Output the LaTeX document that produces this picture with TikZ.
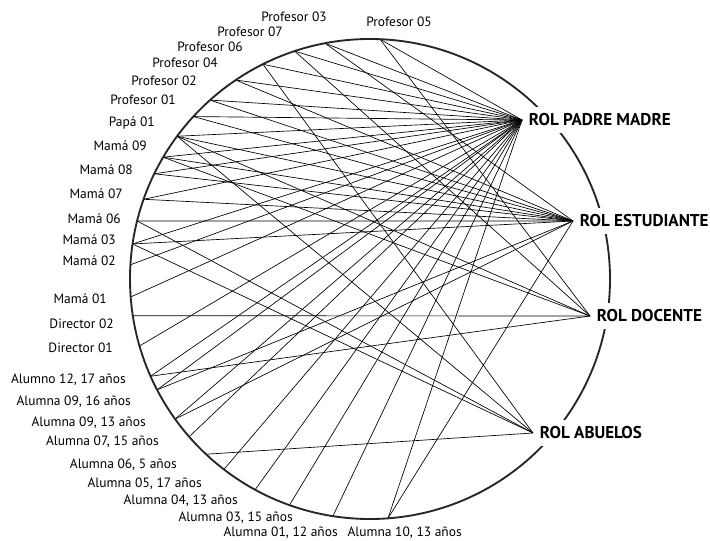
\documentclass[tikz,border=0pt]{standalone}
\usepackage{fontspec}
\setmainfont{PT Sans}
\usetikzlibrary{positioning}

\tikzset{
  rol/.style={font=\bfseries\fontsize{12.8}{14}\selectfont, fill=white, inner xsep=1pt, minimum height=19pt, anchor=west},
  who/.style={font=\fontsize{10.1}{12}\selectfont, inner sep=0pt, anchor=east},
  link/.style={line width=0.5pt},
  rim/.style={line width=1.4pt, draw=black!85}
}

\begin{document}
\begin{tikzpicture}[x=0.75pt,y=-0.75pt]
\useasboundingbox (0,0) rectangle (710,541);
\coordinate (c) at (370,279);
\begin{scope}[shift={(c)}]
\coordinate (prof05) at (-87.6:240);
\coordinate (prof03) at (-100.8:240);
\coordinate (prof07) at (-108.3:240);
\coordinate (prof06) at (-116.5:240);
\coordinate (prof04) at (-124.0:240);
\coordinate (prof02) at (-131.8:240);
\coordinate (prof01) at (-137.4:240);
\coordinate (papa01) at (-143.5:240);
\coordinate (mama09) at (-149.5:240);
\coordinate (mama08) at (-154.0:240);
\coordinate (mama07) at (-160.6:240);
\coordinate (mama06) at (-166.0:240);
\coordinate (mama03) at (-171.6:240);
\coordinate (mama02) at (-176.6:240);
\coordinate (mama01) at (175.7:240);
\coordinate (dir02) at (171.2:240);
\coordinate (dir01) at (163.8:240);
\coordinate (alu12) at (156.1:240);
\coordinate (ala09a) at (152.5:240);
\coordinate (ala09b) at (144.3:240);
\coordinate (ala07) at (138.9:240);
\coordinate (ala06) at (133.1:240);
\coordinate (ala05) at (127.5:240);
\coordinate (ala04) at (118.6:240);
\coordinate (ala03) at (109.6:240);
\coordinate (ala01) at (98.9:240);
\coordinate (ala10) at (85.7:240);
\end{scope}
\coordinate (padre) at (522,120);
\coordinate (estud) at (573,221);
\coordinate (docen) at (590,316);
\coordinate (abuel) at (533,433);

\draw[link] (prof05) -- (padre);
\draw[link] (prof05) -- (docen);
\draw[link] (prof03) -- (padre);
\draw[link] (prof03) -- (estud);
\draw[link] (prof07) -- (padre);
\draw[link] (prof07) -- (docen);
\draw[link] (prof06) -- (padre);
\draw[link] (prof06) -- (abuel);
\draw[link] (prof04) -- (padre);
\draw[link] (prof04) -- (estud);
\draw[link] (prof02) -- (padre);
\draw[link] (prof02) -- (estud);
\draw[link] (prof01) -- (padre);
\draw[link] (prof01) -- (estud);
\draw[link] (papa01) -- (padre);
\draw[link] (papa01) -- (estud);
\draw[link] (papa01) -- (docen);
\draw[link] (papa01) -- (abuel);
\draw[link] (mama09) -- (padre);
\draw[link] (mama09) -- (estud);
\draw[link] (mama09) -- (docen);
\draw[link] (mama08) -- (padre);
\draw[link] (mama08) -- (estud);
\draw[link] (mama07) -- (padre);
\draw[link] (mama07) -- (estud);
\draw[link] (mama06) -- (estud);
\draw[link] (mama06) -- (abuel);
\draw[link] (mama03) -- (padre);
\draw[link] (mama03) -- (estud);
\draw[link] (mama03) -- (abuel);
\draw[link] (mama02) -- (padre);
\draw[link] (mama01) -- (padre);
\draw[link] (dir02) -- (docen);
\draw[link] (dir01) -- (padre);
\draw[link] (alu12) -- (padre);
\draw[link] (alu12) -- (docen);
\draw[link] (ala09a) -- (padre);
\draw[link] (ala09a) -- (estud);
\draw[link] (ala09b) -- (padre);
\draw[link] (ala09b) -- (estud);
\draw[link] (ala07) -- (padre);
\draw[link] (ala06) -- (abuel);
\draw[link] (ala05) -- (padre);
\draw[link] (ala04) -- (padre);
\draw[link] (ala03) -- (padre);
\draw[link] (ala01) -- (padre);
\draw[link] (ala10) -- (padre);
\draw[link] (ala10) -- (estud);

\draw[rim] (c) circle[radius=240];

\node[rol] (lpadre) at ([xshift=4pt]padre) {ROL PADRE MADRE};
\node[rol] (lestud) at ([xshift=4pt]estud) {ROL ESTUDIANTE};
\node[rol] (ldocen) at ([xshift=4pt]docen) {ROL DOCENTE};
\node[rol] (labuel) at ([xshift=4pt]abuel) {ROL ABUELOS};

\node[who] (lprof03) at (327,17) {Profesor 03};
\node[who] (lprof05) at (432,21.5) {Profesor 05};
\node[who] (lprof07) at (283,31.5) {Profesor 07};
\node[who] (lprof06) at (243,46.5) {Profesor 06};
\node[who] (lprof04) at (218,63) {Profesor 04};
\node[who] (lprof02) at (197,81) {Profesor 02};
\node[who] (lprof01) at (176,100) {Profesor 01};
\node[who] (lpapa01) at (155,123) {Papá 01};
\node[who] (lmama09) at (147,146) {Mamá 09};
\node[who] (lmama08) at (133,170) {Mamá 08};
\node[who] (lmama07) at (123,194) {Mamá 07};
\node[who] (lmama06) at (121,219) {Mamá 06};
\node[who] (lmama03) at (116,240) {Mamá 03};
\node[who] (lmama02) at (116,261) {Mamá 02};
\node[who] (lmama01) at (107,299) {Mamá 01};
\node[who] (ldir02) at (114,324) {Director 02};
\node[who] (ldir01) at (113,348) {Director 01};
\node[who] (lalu12) at (126,380) {Alumno 12, 17 años};
\node[who] (lala09a) at (131,402) {Alumna 09, 16 años};
\node[who] (lala09b) at (146,423) {Alumna 09, 13 años};
\node[who] (lala07) at (159,442) {Alumna 07, 15 años};
\node[who] (lala06) at (177,465) {Alumna 06, 5 años};
\node[who] (lala05) at (202,484) {Alumna 05, 17 años};
\node[who] (lala04) at (238,501) {Alumna 04, 13 años};
\node[who] (lala03) at (293,518) {Alumna 03, 15 años};
\node[who] (lala01) at (338,533) {Alumna 01, 12 años};
\node[who] (lala10) at (462,533) {Alumna 10, 13 años};
\end{tikzpicture}
\end{document}
